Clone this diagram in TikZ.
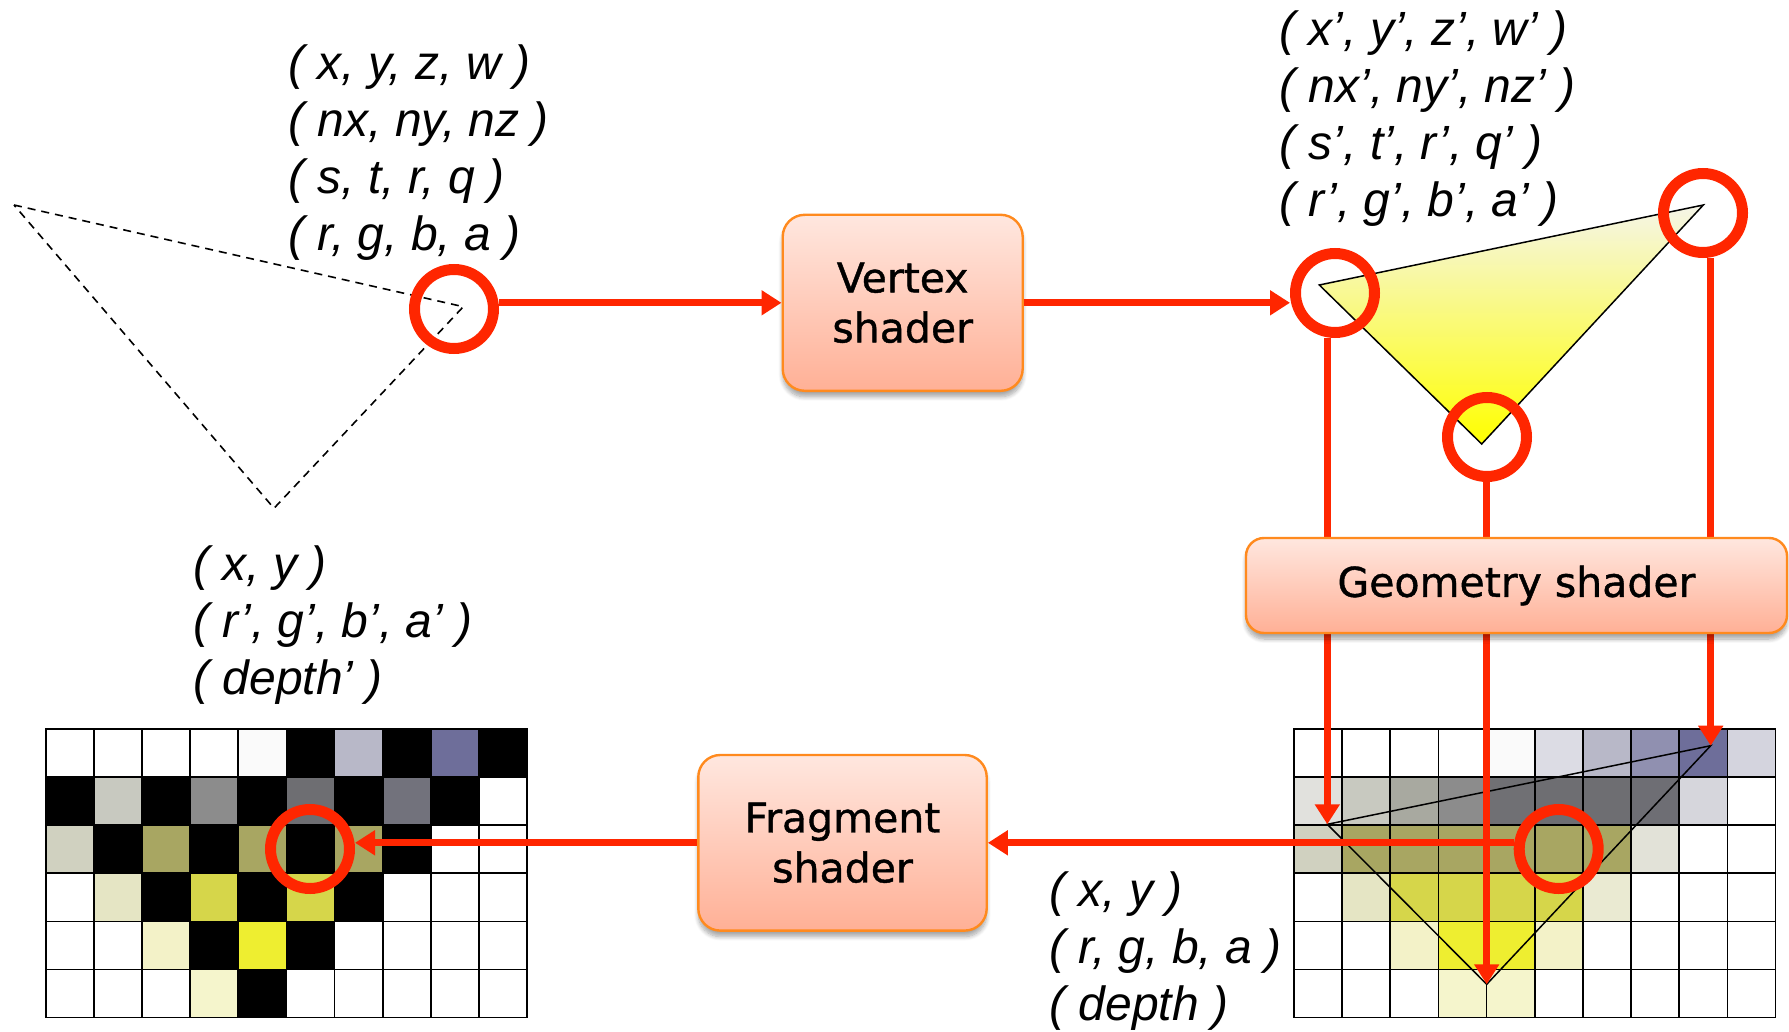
\documentclass[tikz,border=0pt]{standalone}
\usepackage{fontspec}
\setmainfont{Liberation Sans}
\newfontfamily\boxfont[FakeBold=1.0]{DejaVu Sans}
\usetikzlibrary{arrows.meta,shadows.blur}

\definecolor{pipered}{RGB}{255,38,0}
\definecolor{boxedge}{RGB}{255,138,30}
\definecolor{boxtop}{RGB}{255,231,223}
\definecolor{boxbot}{RGB}{255,176,150}
\definecolor{tritop}{RGB}{245,245,232}

\tikzset{
  attr/.style={font=\fontsize{24pt}{28.5pt}\selectfont\itshape, align=left,
    anchor=north west, inner sep=0pt},
  shader/.style={draw=boxedge, line width=1.2pt, rounded corners=11pt,
    top color=boxtop, bottom color=boxbot, align=center,
    font=\boxfont\fontsize{20.5pt}{25pt}\selectfont,
    blur shadow={shadow xshift=0pt, shadow yshift=-3pt, shadow blur steps=8, shadow opacity=35}},
  ring/.style={circle, draw=pipered, line width=5.5pt, minimum size=39.5pt, inner sep=0pt},
  flow/.style={draw=pipered, line width=3.6pt, -{Triangle[length=10pt,width=12pt]}},
  gridline/.style={draw=black, line width=0.85pt, line cap=rect},
}

\begin{document}
\begin{tikzpicture}[x=0.5pt, y=-0.5pt]
\useasboundingbox (0,0) rectangle (1789,1032);

% input primitive (dashed)
\coordinate (p1) at (14,205);
\coordinate (p2) at (463.3,306.7);
\coordinate (p3) at (274,508.3);
\draw[black, line width=0.8pt, dash pattern=on 4pt off 3pt] (p1) -- (p2) -- (p3) -- cycle;

% attribute lists
\node[attr] (inattr) at (288,44) {( x, y, z, w )\\( nx, ny, nz )\\( s, t, r, q )\\( r, g, b, a )};
\node[attr] (vsattr) at (1279,10) {( x’, y’, z’, w’ )\\( nx’, ny’, nz’ )\\( s’, t’, r’, q’ )\\( r’, g’, b’, a’ )};
\node[attr] (fsattr) at (193,545) {( x, y )\\( r’, g’, b’, a’ )\\( depth’ )};
\node[attr] (rsattr) at (1049,871) {( x, y )\\( r, g, b, a )\\( depth )};

% rasterised fragments (right grid)
\foreach \r/\lst in {
  0/{FFFFFF,FFFFFF,FFFFFF,FFFFFF,FAFAFA,DCDCE4,B8B8C8,9090B0,6E6E9A,D4D4DE},
  1/{E1E1DD,C8C9C0,A8A9A0,8C8C8C,707074,6E6E72,6E6E72,6E6E74,D6D6DC,FFFFFF},
  2/{D0D1C0,A8A662,A8A662,A8A662,A8A662,A8A662,A8A662,E2E2D8,FFFFFF,FFFFFF},
  3/{FFFFFF,E5E5C4,D6D64A,D6D64A,D6D64A,D6D64A,EAEAD2,FFFFFF,FFFFFF,FFFFFF},
  4/{FFFFFF,FFFFFF,F3F2C8,EEEE30,EEEE30,F3F2C8,FFFFFF,FFFFFF,FFFFFF,FFFFFF},
  5/{FFFFFF,FFFFFF,FFFFFF,F5F5CC,F5F5CC,FFFFFF,FFFFFF,FFFFFF,FFFFFF,FFFFFF}} {
  \foreach \h [count=\c from 0] in \lst {
    \definecolor{cellc}{HTML}{\h}
    \fill[cellc] ({1294+\c*48.15},{729+\r*48.1}) rectangle ++(48.15,48.1);
  }
}
\foreach \c in {0,...,10} \draw[gridline] ({1294+\c*48.15},729) -- ++(0,288.6);
\foreach \r in {0,...,6} \draw[gridline] (1294,{729+\r*48.1}) -- ++(481.5,0);

% shaded fragments (left grid)
\foreach \r/\lst in {
  0/{FFFFFF,FFFFFF,FFFFFF,FFFFFF,FAFAFA,000000,B8B8C8,000000,6E6E9A,000000},
  1/{000000,C8C9C0,000000,8C8C8C,000000,6E6E72,000000,72727C,000000,FFFFFF},
  2/{D0D1C0,000000,A8A662,000000,A8A662,000000,A8A662,000000,FFFFFF,FFFFFF},
  3/{FFFFFF,E5E5C4,000000,D6D64A,000000,D6D64A,000000,FFFFFF,FFFFFF,FFFFFF},
  4/{FFFFFF,FFFFFF,F3F2C8,000000,EEEE30,000000,FFFFFF,FFFFFF,FFFFFF,FFFFFF},
  5/{FFFFFF,FFFFFF,FFFFFF,F5F5CC,000000,FFFFFF,FFFFFF,FFFFFF,FFFFFF,FFFFFF}} {
  \foreach \h [count=\c from 0] in \lst {
    \definecolor{cellc}{HTML}{\h}
    \fill[cellc] ({45.7+\c*48.15},{729+\r*48.1}) rectangle ++(48.15,48.1);
  }
}
\foreach \c in {0,...,10} \draw[gridline] ({45.7+\c*48.15},729) -- ++(0,288.6);
\foreach \r in {0,...,6} \draw[gridline] (45.7,{729+\r*48.1}) -- ++(481.5,0);

% triangle over the rasterised grid
\coordinate (g1) at (1327.3,824.3);
\coordinate (g2) at (1710.7,745.7);
\coordinate (g3) at (1486.7,984.3);
\draw[black, line width=0.75pt, line join=miter] (g1) -- (g2) -- (g3) -- cycle;

% transformed triangle with colour gradient
\coordinate (t1) at (1319.3,285);
\coordinate (t2) at (1703.3,205);
\coordinate (t3) at (1481.7,444);
\shade[top color=tritop, bottom color=yellow] (t1) -- (t2) -- (t3) -- cycle;
\draw[black, line width=0.75pt] (t1) -- (t2) -- (t3) -- cycle;

% vertex / fragment markers
\node[ring] (c1) at (454,309) {};
\node[ring] (c2) at (1335,293) {};
\node[ring] (c3) at (1703,213) {};
\node[ring] (c4) at (1487,437) {};
\node[ring] (c5) at (1558.7,849) {};
\node[ring] (c6) at (310,849) {};

% shader stages
\node[shader, minimum width=120pt, minimum height=88pt] (vs) at (902.7,302.8) {Vertex\\shader};
\node[shader, minimum width=144.2pt, minimum height=87.8pt] (fs) at (842.5,842.8) {Fragment\\shader};

% connectors
\draw[flow] (c1.east |- vs.west) -- (vs.west);
\draw[flow] (vs.east) -- (c2.west |- vs.east);
\draw[flow] (c2.south -| g1) -- (g1);
\draw[flow] (c4.south -| g3) -- (g3);
\draw[flow] (c3.south -| g2) -- (g2);
\draw[flow] (c5.west |- fs.east) -- (fs.east);
\draw[flow] (fs.west) -- (c6.east |- fs.west);

\node[shader, rounded corners=9pt, minimum width=270.5pt, minimum height=47.5pt] (gs) at (1516.5,585.5) {Geometry shader};
\end{tikzpicture}
\end{document}
